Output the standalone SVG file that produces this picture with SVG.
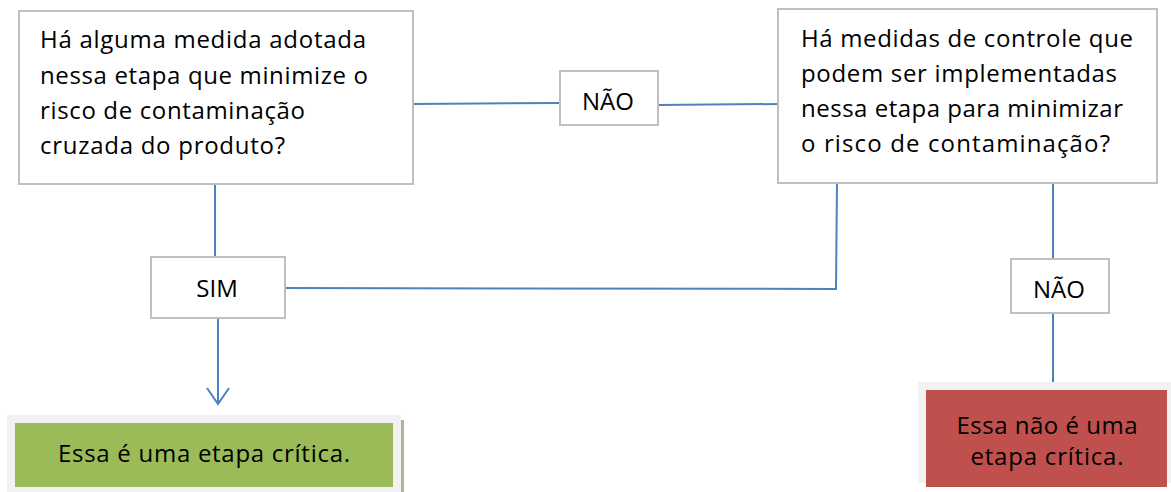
<svg xmlns="http://www.w3.org/2000/svg" width="1171" height="492" viewBox="0 0 1171 492">
<style>
.box{fill:#ffffff;stroke:#bfbfbf;stroke-width:2}
.t{font-family:"Open Sans","Liberation Sans",sans-serif;font-size:24px;fill:#000000}
.c{text-anchor:middle}
.ln{fill:none;stroke:#4f81bd;stroke-width:2}
</style>
<rect width="1171" height="492" fill="#ffffff"/>
<g id="connectors">
<path class="ln" d="M413,104 L560,103"/>
<path class="ln" d="M658,105 L779,104"/>
<path class="ln" d="M215,184 L215,257"/>
<path class="ln" d="M285,288 L836,289 L837,183"/>
<path class="ln" d="M1053,183 L1053,259"/>
<path class="ln" d="M1053,313 L1053,387"/>
<path class="ln" d="M218,318 L218,404"/>
<path class="ln" d="M207,388 L218,404 L229,388"/>
</g>
<g id="q1">
<rect class="box" x="19" y="11" width="394" height="173"/>
<text class="t" x="40" y="48" textLength="326" lengthAdjust="spacing">Há alguma medida adotada</text>
<text class="t" x="40" y="84" textLength="328" lengthAdjust="spacing">nessa etapa que minimize o</text>
<text class="t" x="40" y="119" textLength="265" lengthAdjust="spacing">risco de contaminação</text>
<text class="t" x="40" y="154" textLength="245" lengthAdjust="spacing">cruzada do produto?</text>
</g>
<g id="nao1">
<rect class="box" x="560" y="71" width="98" height="54"/>
<text class="t c" x="608" y="110">NÃO</text>
</g>
<g id="q2">
<rect class="box" x="778" y="9" width="379" height="174"/>
<text class="t" x="801" y="47" textLength="332" lengthAdjust="spacing">Há medidas de controle que</text>
<text class="t" x="801" y="82" textLength="316" lengthAdjust="spacing">podem ser implementadas</text>
<text class="t" x="801" y="117" textLength="322" lengthAdjust="spacing">nessa etapa para minimizar</text>
<text class="t" x="801" y="152" textLength="309" lengthAdjust="spacing">o risco de contaminação?</text>
</g>
<g id="sim">
<rect class="box" x="151" y="257" width="134" height="61"/>
<text class="t c" x="217" y="297">SIM</text>
</g>
<g id="nao2">
<rect class="box" x="1011" y="259" width="98" height="54"/>
<text class="t c" x="1059" y="298">NÃO</text>
</g>
<g id="critica">
<rect x="7" y="415" width="394" height="77" fill="#f2f2f2"/>
<rect x="401" y="420" width="3" height="72" fill="#a9b79c"/>
<rect x="15" y="423" width="378" height="64" fill="#9bbb59"/>
<text class="t c" x="204" y="462" textLength="292" lengthAdjust="spacing">Essa é uma etapa crítica.</text>
</g>
<g id="nao-critica">
<rect x="918" y="382" width="253" height="101" fill="#f2f2f2"/>
<rect x="926" y="390" width="241" height="97" fill="#c0504d"/>
<text class="t c" x="1047" y="434" textLength="181" lengthAdjust="spacing">Essa não é uma</text>
<text class="t c" x="1047" y="465" textLength="153" lengthAdjust="spacing">etapa crítica.</text>
</g>
</svg>
